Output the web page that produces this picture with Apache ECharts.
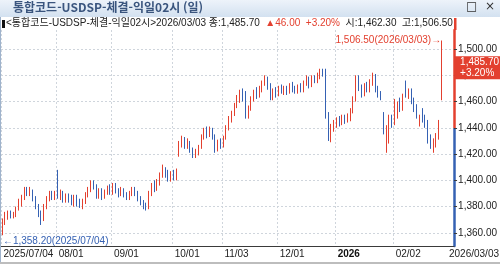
<!DOCTYPE html>
<html lang="ko">
<head>
<meta charset="UTF-8">
<title>통합코드-USDSP 일봉</title>
<script src="https://cdn.jsdelivr.net/npm/echarts@6/dist/echarts.min.js"></script>
<style>
  html, body { margin: 0; padding: 0; background: #fff; }
  #chart { width: 500px; height: 264px; }
</style>
</head>
<body>
<div id="chart"></div>
<script>
// 거래일 (2025/07/04 ~ 2026/03/03)
var dates = (
  '2025/07/04 2025/07/07 2025/07/08 2025/07/09 2025/07/10 2025/07/11 2025/07/14 2025/07/15 2025/07/16 2025/07/17 ' +
  '2025/07/18 2025/07/21 2025/07/22 2025/07/23 2025/07/24 2025/07/25 2025/07/28 2025/07/29 2025/07/30 2025/07/31 ' +
  '2025/08/01 2025/08/04 2025/08/05 2025/08/06 2025/08/07 2025/08/08 2025/08/11 2025/08/12 2025/08/13 2025/08/14 ' +
  '2025/08/18 2025/08/19 2025/08/20 2025/08/21 2025/08/22 2025/08/25 2025/08/26 2025/08/27 2025/08/28 2025/08/29 ' +
  '2025/09/01 2025/09/02 2025/09/03 2025/09/04 2025/09/05 2025/09/08 2025/09/09 2025/09/10 2025/09/11 2025/09/12 ' +
  '2025/09/15 2025/09/16 2025/09/17 2025/09/18 2025/09/19 2025/09/22 2025/09/23 2025/09/24 2025/09/25 2025/09/26 ' +
  '2025/09/29 2025/09/30 2025/10/01 2025/10/02 2025/10/10 2025/10/13 2025/10/14 2025/10/15 2025/10/16 2025/10/17 ' +
  '2025/10/20 2025/10/21 2025/10/22 2025/10/23 2025/10/24 2025/10/27 2025/10/28 2025/10/29 2025/10/30 2025/10/31 ' +
  '2025/11/03 2025/11/04 2025/11/05 2025/11/06 2025/11/07 2025/11/10 2025/11/11 2025/11/12 2025/11/13 2025/11/14 ' +
  '2025/11/17 2025/11/18 2025/11/19 2025/11/20 2025/11/21 2025/11/24 2025/11/25 2025/11/26 2025/11/27 2025/11/28 ' +
  '2025/12/01 2025/12/02 2025/12/03 2025/12/04 2025/12/05 2025/12/08 2025/12/09 2025/12/10 2025/12/11 2025/12/12 ' +
  '2025/12/15 2025/12/16 2025/12/17 2025/12/18 2025/12/19 2025/12/22 2025/12/23 2025/12/24 2025/12/26 2025/12/29 ' +
  '2025/12/30 2026/01/02 2026/01/05 2026/01/06 2026/01/07 2026/01/08 2026/01/09 2026/01/12 2026/01/13 2026/01/14 ' +
  '2026/01/15 2026/01/16 2026/01/19 2026/01/20 2026/01/21 2026/01/22 2026/01/23 2026/01/26 2026/01/27 2026/01/28 ' +
  '2026/01/29 2026/01/30 2026/02/02 2026/02/03 2026/02/04 2026/02/05 2026/02/06 2026/02/09 2026/02/10 2026/02/11 ' +
  '2026/02/12 2026/02/13 2026/02/19 2026/02/20 2026/02/23 2026/02/24 2026/02/25 2026/02/26 2026/02/27 2026/03/03'
).split(' ');

// [시가, 종가, 저가, 고가]
var candles = [
  [1360, 1369, 1358.2, 1371], [1368, 1373, 1366, 1376], [1372, 1375, 1370, 1377], [1375, 1373, 1371, 1377],
  [1373, 1374, 1371, 1376], [1374, 1378, 1372, 1380], [1378, 1383, 1377, 1386], [1382, 1387, 1380, 1389],
  [1387, 1392, 1385, 1395], [1392, 1390, 1388, 1395], [1390, 1393, 1388, 1395], [1392, 1386, 1384, 1393],
  [1386, 1380, 1378, 1388], [1380, 1375, 1372, 1382], [1375, 1370, 1366, 1377], [1371, 1380, 1369, 1382],
  [1380, 1386, 1378, 1388], [1386, 1390, 1384, 1392], [1389, 1387, 1385, 1392], [1387, 1390, 1385, 1392],
  [1395, 1388, 1386, 1408], [1388, 1390, 1385, 1393], [1390, 1385, 1383, 1392], [1385, 1388, 1383, 1390],
  [1388, 1386, 1383, 1390], [1386, 1383, 1381, 1389], [1383, 1387, 1380, 1389], [1387, 1383, 1380, 1389],
  [1383, 1380, 1379, 1386], [1380, 1384, 1378, 1386], [1384, 1389, 1382, 1391], [1389, 1393, 1387, 1395],
  [1393, 1397, 1391, 1400], [1397, 1395, 1393, 1400], [1395, 1389, 1386, 1397], [1389, 1392, 1386, 1394],
  [1392, 1388, 1385, 1394], [1388, 1391, 1386, 1393], [1391, 1394, 1389, 1396], [1394, 1391, 1389, 1397],
  [1391, 1395, 1389, 1398], [1395, 1392, 1390, 1398], [1392, 1389, 1387, 1394], [1389, 1392, 1388, 1395],
  [1392, 1389, 1387, 1394], [1389, 1387, 1385, 1391], [1387, 1390, 1385, 1392], [1390, 1393, 1388, 1395],
  [1393, 1390, 1388, 1395], [1390, 1386, 1384, 1392], [1386, 1383, 1381, 1388], [1383, 1380, 1378, 1385],
  [1382, 1379, 1377, 1383], [1379, 1390, 1378, 1392], [1390, 1395, 1388, 1398], [1395, 1393, 1391, 1400],
  [1393, 1398, 1392, 1401], [1398, 1404, 1396, 1406], [1404, 1408, 1402, 1412], [1408, 1405, 1402, 1410],
  [1405, 1401, 1399, 1408], [1401, 1404, 1399, 1407], [1404, 1402, 1400, 1408], [1402, 1405, 1400, 1409],
  [1422, 1427, 1418, 1430], [1427, 1431, 1425, 1434], [1431, 1426, 1424, 1433], [1426, 1429, 1424, 1432],
  [1429, 1423, 1421, 1430], [1423, 1419, 1417, 1425], [1419, 1421, 1417, 1424], [1421, 1425, 1419, 1427],
  [1425, 1433, 1424, 1435], [1433, 1437, 1431, 1440], [1437, 1435, 1432, 1441], [1435, 1438, 1433, 1441],
  [1438, 1433, 1431, 1440], [1433, 1424, 1421, 1435], [1424, 1428, 1422, 1431], [1428, 1426, 1424, 1432],
  [1426, 1432, 1425, 1434], [1432, 1440, 1431, 1442], [1440, 1446, 1438, 1449], [1446, 1451, 1444, 1453],
  [1451, 1457, 1449, 1459], [1457, 1462, 1455, 1465], [1462, 1466, 1459, 1469], [1466, 1463, 1460, 1470],
  [1463, 1449, 1447, 1468], [1449, 1455, 1447, 1457], [1455, 1462, 1453, 1464], [1462, 1467, 1460, 1469],
  [1467, 1465, 1462, 1471], [1465, 1469, 1463, 1472], [1469, 1474, 1467, 1476], [1474, 1477, 1472, 1480],
  [1477, 1471, 1469, 1479], [1471, 1464, 1461, 1474], [1464, 1468, 1461, 1470], [1468, 1466, 1463, 1471],
  [1466, 1470, 1464, 1472], [1470, 1468, 1466, 1473], [1468, 1470, 1465, 1472], [1470, 1467, 1465, 1472],
  [1467, 1472, 1466, 1474], [1472, 1470, 1467, 1475], [1470, 1468, 1466, 1472], [1468, 1471, 1466, 1473],
  [1471, 1469, 1467, 1474], [1469, 1474, 1467, 1476], [1474, 1478, 1472, 1480], [1478, 1473, 1470, 1479],
  [1473, 1477, 1471, 1480], [1477, 1476, 1474, 1480], [1476, 1479, 1474, 1482], [1479, 1483, 1477, 1485],
  [1483, 1481, 1479, 1485], [1483, 1449, 1447, 1485], [1449, 1436, 1430, 1452], [1432, 1440, 1429, 1443],
  [1440, 1442, 1437, 1446], [1442, 1445, 1440, 1448], [1445, 1444, 1441, 1449], [1444, 1447, 1442, 1450],
  [1447, 1446, 1443, 1450], [1446, 1448, 1444, 1451], [1447, 1453, 1445, 1455], [1453, 1462, 1451, 1464],
  [1462, 1478, 1460, 1480], [1478, 1470, 1468, 1480], [1470, 1466, 1463, 1473], [1466, 1472, 1464, 1474],
  [1472, 1469, 1467, 1475], [1469, 1474, 1467, 1477], [1474, 1479, 1472, 1482], [1479, 1470, 1467, 1481],
  [1470, 1466, 1463, 1472], [1466, 1463, 1461, 1468], [1450, 1441, 1435, 1452], [1431, 1438, 1421, 1442],
  [1430, 1446, 1428, 1450], [1446, 1444, 1440, 1450], [1444, 1450, 1442, 1462], [1450, 1458, 1447, 1460],
  [1458, 1455, 1452, 1463], [1455, 1464, 1453, 1466], [1472, 1465, 1463, 1476], [1465, 1468, 1462, 1470],
  [1468, 1460, 1458, 1470], [1460, 1455, 1452, 1463], [1455, 1450, 1447, 1458], [1443, 1447, 1441, 1450],
  [1452, 1447, 1444, 1455], [1447, 1444, 1440, 1450], [1444, 1430, 1428, 1446], [1432, 1426, 1424, 1435],
  [1426, 1429, 1421, 1432], [1429, 1433, 1425, 1436], [1433, 1439.7, 1431, 1446], [1462.3, 1485.7, 1461, 1506.5]
];

// x축 눈금 날짜
var monthTicks = ['2025/07/04', '2025/08/01', '2025/09/01', '2025/10/01', '2025/11/03', '2025/12/01', '2026/01/02', '2026/02/02'];

var RED = '#e3402f';
var BLUE = '#3561b3';
var GRID_COLOR = '#cfd5dc';
var Y_MIN = 1350, Y_MAX = 1514.5;

function fmt(v) {
  return v.toLocaleString('en-US', {minimumFractionDigits: 2, maximumFractionDigits: 2});
}

// 마지막 봉 / 전일 종가
var last = candles[candles.length - 1];
var prevClose = candles[candles.length - 2][1];
var change = last[1] - prevClose;
var pct = (change / prevClose * 100).toFixed(2);
var lastDate = dates[dates.length - 1];

// 최고 / 최저
var hiIdx = 0, loIdx = 0;
candles.forEach(function (c, i) {
  if (c[3] > candles[hiIdx][3]) hiIdx = i;
  if (c[2] < candles[loIdx][2]) loIdx = i;
});

// 오른쪽 여백용 빈 칸
var cats = dates.concat(['', '', '', '']);

function isTick(i, v) { return monthTicks.indexOf(v) >= 0; }

var split = (Y_MAX - prevClose) / (Y_MAX - Y_MIN);
var FONT = '"Liberation Sans", "Noto Sans CJK KR"';

var chart = echarts.init(document.getElementById('chart'));
chart.setOption({
  animation: false,
  backgroundColor: '#fff',
  textStyle: {fontFamily: '"Liberation Sans", "Noto Sans CJK KR", sans-serif'},
  grid: {left: 1, right: 44, top: 30, bottom: 18},
  xAxis: {
    type: 'category',
    data: cats,
    boundaryGap: true,
    axisLine: {lineStyle: {color: '#3a3a3a', width: 1}},
    axisTick: {alignWithLabel: true, interval: isTick, length: 4, lineStyle: {color: '#3a3a3a'}},
    axisLabel: {
      interval: isTick, align: 'left', margin: 3, padding: [0, 0, 0, 1],
      fontSize: 10, color: '#222',
      formatter: function (v, i) {
        if (i === 0) return v;
        var k = monthTicks.indexOf(v);
        if (k > 0 && monthTicks[k - 1].slice(0, 4) !== v.slice(0, 4)) return '{b|' + v.slice(0, 4) + '}';
        return v.slice(5);
      },
      rich: {b: {fontWeight: 'bold', fontSize: 10, color: '#111'}}
    },
    splitLine: {show: true, interval: isTick, lineStyle: {type: [2, 2], color: GRID_COLOR}}
  },
  yAxis: {
    type: 'value',
    position: 'right',
    min: Y_MIN,
    max: Y_MAX,
    minInterval: 20,
    maxInterval: 20,
    axisLine: {
      show: true,
      lineStyle: {
        width: 2.5,
        color: new echarts.graphic.LinearGradient(0, 0, 0, 1, [
          {offset: 0, color: RED}, {offset: split, color: RED},
          {offset: split, color: BLUE}, {offset: 1, color: BLUE}
        ])
      }
    },
    axisTick: {show: true, length: 3, lineStyle: {color: '#3a3a3a'}},
    axisLabel: {showMinLabel: false, showMaxLabel: false, margin: 4, fontSize: 10, color: '#222', formatter: fmt},
    splitLine: {show: true, showMinLine: false, showMaxLine: false, lineStyle: {type: [2, 2], color: GRID_COLOR}}
  },
  series: [{
    type: 'candlestick',
    data: candles,
    barWidth: 1.3,
    itemStyle: {color: RED, color0: BLUE, borderColor: RED, borderColor0: BLUE, borderWidth: 1},
    markLine: {
      silent: true,
      symbol: 'none',
      lineStyle: {color: 'rgba(0,0,0,0)', width: 0},
      label: {
        position: 'end', distance: 0,
        formatter: fmt(last[1]) + '\n+' + pct + '%',
        backgroundColor: RED, color: '#fff', fontSize: 10, lineHeight: 11,
        padding: [1, 3, 0, 6], align: 'left'
      },
      data: [{yAxis: last[1]}]
    },
    markPoint: {
      silent: true,
      symbol: 'circle',
      symbolSize: 1,
      itemStyle: {color: 'rgba(0,0,0,0)'},
      data: [
        {
          coord: [hiIdx, last[3]],
          label: {position: 'left', distance: 0, fontSize: 10, color: RED,
                  formatter: fmt(candles[hiIdx][3]) + '(' + dates[hiIdx] + ')→'}
        },
        {
          coord: [loIdx, candles[loIdx][2]],
          label: {position: 'right', distance: 0, offset: [0, 6], fontSize: 10, color: BLUE,
                  formatter: '←' + fmt(candles[loIdx][2]) + '(' + dates[loIdx] + ')'}
        }
      ]
    }
  }],
  graphic: [
    {
      type: 'rect', left: 0, top: 0, z: 10,
      shape: {width: 500, height: 17},
      style: {fill: new echarts.graphic.LinearGradient(0, 0, 0, 1, [{offset: 0, color: '#edf3fa'}, {offset: 1, color: '#d3e1f0'}])}
    },
    {
      type: 'text', left: 13, top: 1, z: 11,
      style: {text: '통합코드-USDSP-체결-익일02시 (일)', font: 'bold 12px "Noto Sans CJK KR"', fill: '#3a557e'}
    },
    {
      type: 'text', right: 5, top: 1, z: 11,
      style: {text: '□  ×', font: '12px "DejaVu Sans"', fill: '#333'}
    },
    {type: 'rect', left: 2, top: 20, z: 11, shape: {width: 3, height: 8}, style: {fill: '#111'}},
    {
      type: 'text', left: 6, top: 18, z: 11,
      style: {
        text: '{n|<통합코드-USDSP-체결-익일02시>' + lastDate + ' 종:' + fmt(last[1]) + '  }' +
              '{r|▲' + change.toFixed(2) + '  +' + pct + '%}' +
              '{n|  시:' + fmt(last[0]) + '  고:' + fmt(last[3]) + '}',
        rich: {
          n: {font: '10px ' + FONT, fill: '#222'},
          r: {font: '10px ' + FONT, fill: RED}
        }
      }
    },
    {type: 'rect', left: 454, top: 18, z: 11, shape: {width: 2.5, height: 12}, style: {fill: RED}},
    {
      type: 'text', right: 1, top: 249, z: 11,
      style: {text: lastDate, font: '10px "Liberation Sans"', fill: '#222'}
    },
    {type: 'rect', left: 0, top: 17, z: 11, shape: {width: 1, height: 247}, style: {fill: '#9fb3cc'}},
    {type: 'rect', left: 0, top: 262, z: 11, shape: {width: 500, height: 2}, style: {fill: '#bdbdbd'}}
  ]
});
</script>
</body>
</html>
